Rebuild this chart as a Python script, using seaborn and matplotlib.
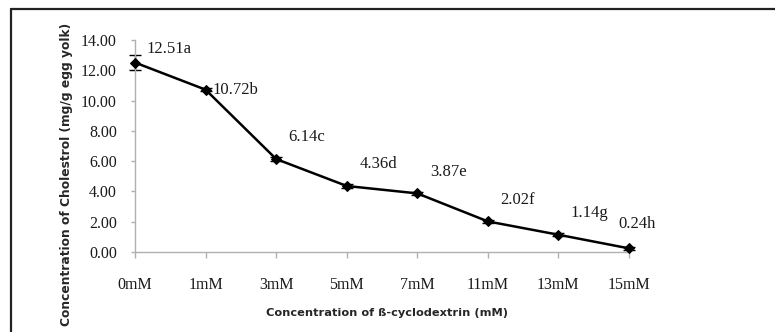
import matplotlib
matplotlib.use("Agg")
import matplotlib.pyplot as plt
import seaborn as sns
import pandas as pd
from matplotlib.lines import Line2D

categories = ["0mM", "1mM", "3mM", "5mM", "7mM", "11mM", "13mM", "15mM"]
cholesterol = [12.51, 10.72, 6.14, 4.36, 3.87, 2.02, 1.14, 0.24]
errors = [0.48, 0.12, 0.12, 0.15, 0.12, 0.12, 0.10, 0.12]
letters = ["a", "b", "c", "d", "e", "f", "g", "h"]
yticks = [0, 2, 4, 6, 8, 10, 12, 14]

# label offsets in points (dx, dy)
offsets = [(8, 4), (5, 0), (9, 10), (9, 10), (9, 10), (9, 10), (9, 10), (-8, 12)]

df = pd.DataFrame({"conc": categories, "chol": cholesterol})

sns.set_style("white")
serif = ["Liberation Serif", "DejaVu Serif"]

fig = plt.figure(figsize=(7.75, 3.32), dpi=100)
ax = fig.add_axes([135 / 775, 1 - 252 / 332, (629 - 135) / 775, (252 - 40) / 332])

eb = ax.errorbar(df["conc"], df["chol"], yerr=errors, fmt="none", ecolor="black",
                 elinewidth=1, capsize=4, capthick=1, zorder=2)
for artist in eb.lines[1] + eb.lines[2]:
    artist.set_clip_on(False)
sns.lineplot(data=df, x="conc", y="chol", ax=ax, color="black", linewidth=1.8,
             marker="D", markersize=5.5, markeredgecolor="black", sort=False, zorder=3)
for ln in ax.lines:
    ln.set_clip_on(False)

for i, (c, v, l) in enumerate(zip(categories, cholesterol, letters)):
    ax.annotate(f"{v:.2f}{l}", xy=(i, v), xytext=offsets[i], textcoords="offset points",
                ha="left", va="bottom" if offsets[i][1] > 0 else "center",
                fontsize=12, family=serif, color="#1a1a1a")

ax.set_xlim(0, len(categories) - 1)
ax.set_ylim(0, 14)
ax.set_yticks(yticks)
ax.set_yticklabels([f"{t:.2f}" for t in yticks], family=serif, fontsize=11.5, color="#1a1a1a")
ax.set_xticks(range(len(categories)))
ax.set_xticklabels(categories, family=serif, fontsize=11.5, color="#1a1a1a")

for s in ["top", "right"]:
    ax.spines[s].set_visible(False)
for s in ["left", "bottom"]:
    ax.spines[s].set_color("#B0B0B0")
    ax.spines[s].set_linewidth(1)
ax.tick_params(axis="x", direction="out", length=4, width=1, color="#B0B0B0", pad=14, bottom=True)
ax.tick_params(axis="y", direction="out", length=3, width=1, color="#B0B0B0", pad=10, left=True)

ax.set_xlabel("Concentration of ß-cyclodextrin (mM)", fontsize=8.2, fontweight="bold",
              family="DejaVu Sans")
ax.set_ylabel("Concentration of Cholestrol (mg/g egg yolk)", fontsize=8.8, fontweight="bold",
              family="DejaVu Sans")
ax.xaxis.set_label_coords((387 - 135) / (629 - 135), -(313 - 252) / (252 - 40))
ax.yaxis.set_label_coords(-(135 - 67) / (629 - 135), (252 - 174) / (252 - 40))
ax.xaxis.label.set_va("center")
ax.yaxis.label.set_va("center")

# outer frame (top and left visible)
fig.add_artist(Line2D([11 / 775, 1.0], [1 - 9 / 332, 1 - 9 / 332], color="#222222", linewidth=1.6))
fig.add_artist(Line2D([11 / 775, 11 / 775], [0.0, 1 - 9 / 332], color="#222222", linewidth=1.6))

fig.savefig("out.png", dpi=100)
